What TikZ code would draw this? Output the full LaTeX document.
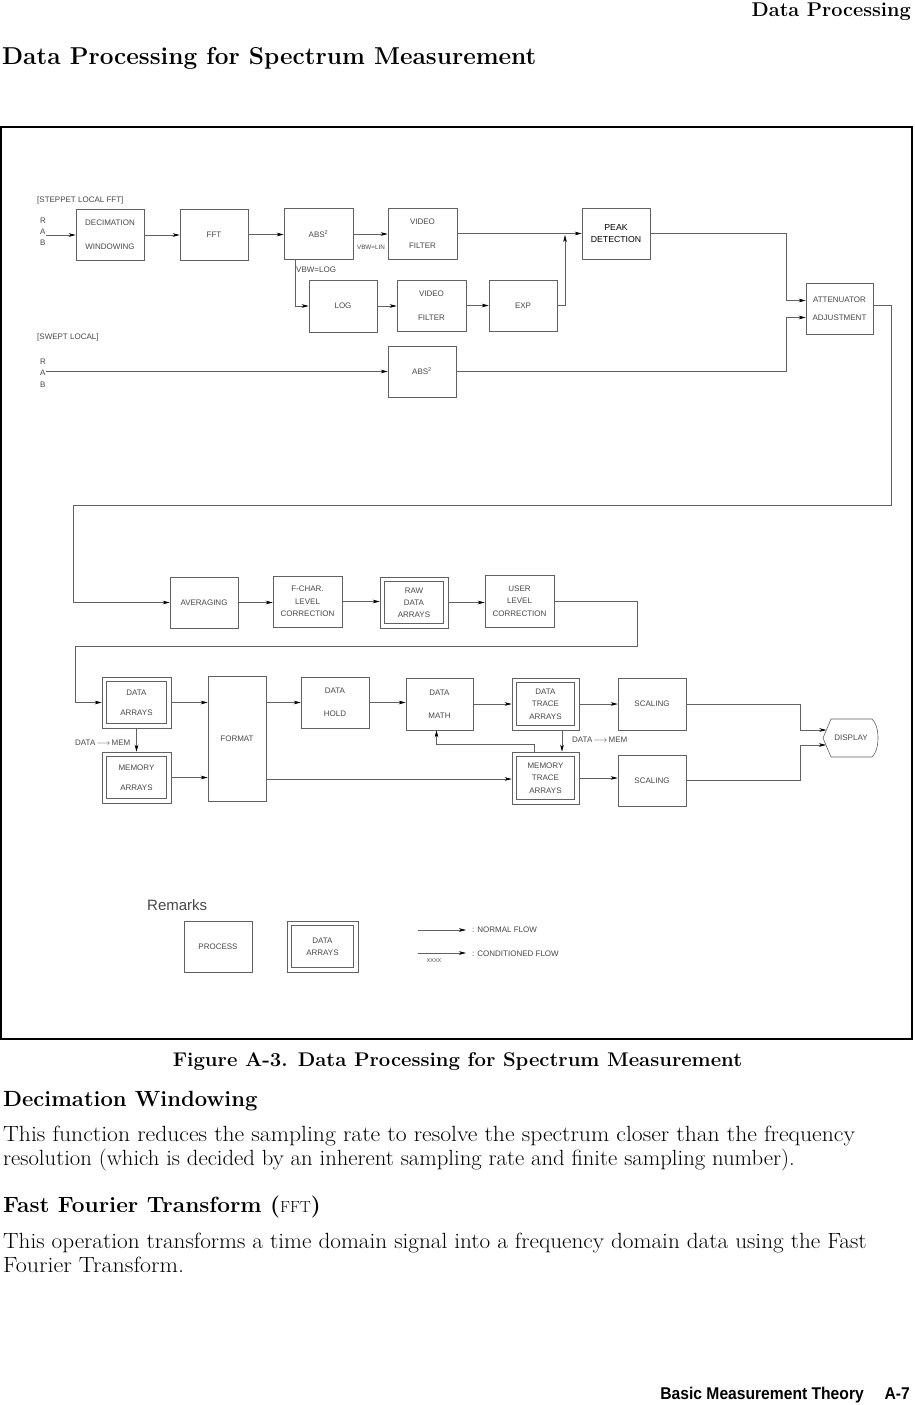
\documentclass[tikz,border=0pt]{standalone}
\usepackage{fontspec}
\newfontfamily\diagfont{Liberation Sans}
\usetikzlibrary{arrows.meta,calc}

\colorlet{linegray}{black!62}
\colorlet{textgray}{black!72}

\tikzset{
  block/.style={
    draw=linegray,
    line width=0.6pt,
    minimum width=68pt,
    minimum height=51pt,
    inner sep=0pt,
    align=center,
    text=textgray,
    font=\diagfont\fontsize{8}{9.5}\selectfont
  },
  arrblock/.style={
    block,
    path picture={
      \draw[linegray, line width=0.6pt]
        ([shift={(4.3pt,4.3pt)}]path picture bounding box.south west)
        rectangle ([shift={(-4.3pt,-4.3pt)}]path picture bounding box.north east);
    }
  },
  wire/.style={draw=linegray, line width=0.6pt},
  flow/.style={wire, -{Stealth[length=7pt,width=3.6pt,inset=2pt,black]}},
  tag/.style={inner sep=0pt, text=textgray, font=\diagfont\fontsize{8}{9.5}\selectfont},
  pagetext/.style={inner sep=0pt, anchor=base west},
  bodytext/.style={pagetext, font=\fontsize{22}{24}\selectfont}
}

\begin{document}
\begin{tikzpicture}[x=1pt, y=-1pt]
  \useasboundingbox (0,0) rectangle (915,1405);

  % page text
  \node[pagetext, anchor=base east, font=\bfseries\fontsize{19.9}{24}\selectfont] (hdr) at (911,17) {Data Processing};
  \node[pagetext, font=\bfseries\fontsize{24.4}{28}\selectfont] (title) at (2,65) {Data Processing for Spectrum Measurement};

  % frame
  \draw[line width=2pt] (1,127) rectangle (912,1039);

  % stepped local fft path
  \node[tag, anchor=west] (lblstep) at (37,200) {[STEPPET LOCAL FFT]};
  \node[tag, align=left, font=\diagfont\fontsize{8}{11}\selectfont] (rab1) at (43,232) {R\\A\\B};
  \node[block] (dec) at (110,235) {DECIMATION\\[14.5pt]WINDOWING};
  \node[block] (fft) at (214,234.5) {FFT};
  \node[block, minimum width=69pt] (abs) at (318.5,234) {ABS\textsuperscript{\fontsize{5.5}{6}\selectfont 2}};
  \node[block, minimum width=69pt] (vid1) at (422.5,233.5) {VIDEO\\[14.5pt]FILTER};
  \node[block, text=black, font=\diagfont\fontsize{8.7}{11.5}\selectfont] (peak) at (616,233.5) {PEAK\\DETECTION};
  \node[block, minimum height=52pt] (log) at (343,306) {LOG};
  \node[block, minimum width=69pt] (vid2) at (431.5,305.5) {VIDEO\\[14.5pt]FILTER};
  \node[block] (exp) at (523,305.5) {EXP};
  \node[block, minimum width=67pt] (att) at (839.5,308.5) {ATTENUATOR\\[8.5pt]ADJUSTMENT};
  \node[tag, anchor=west] (vbwlog) at (296,270) {VBW=LOG};
  \node[tag, font=\diagfont\fontsize{6.3}{8}\selectfont] (vbwlin) at (371,247) {VBW=LIN};

  % swept local path
  \node[tag, anchor=west] (lblswept) at (37,337) {[SWEPT LOCAL]};
  \node[tag, align=left, font=\diagfont\fontsize{8}{11.5}\selectfont] (rab2) at (43,373) {R\\A\\B};
  \node[block] (abs2) at (422,371.5) {ABS\textsuperscript{\fontsize{5.5}{6}\selectfont 2}};

  \coordinate (merge) at (565,235);
  \coordinate (att in1) at ([yshift=8pt]att.west);
  \coordinate (att in2) at ([yshift=-9pt]att.west);
  \coordinate (turn a) at (891,505);
  \coordinate (turn b) at (73,505);

  \draw[flow] (rab1.east |- dec.west) -- (dec.west);
  \draw[flow] (dec.east) -- (dec.east -| fft.west);
  \draw[flow] (fft.east) -- (fft.east -| abs.west);
  \draw[flow] (abs.east) -- (abs.east -| vid1.west);
  \draw[flow] (vid1.east) -- (vid1.east -| peak.west);
  \draw[flow] ([xshift=12pt]abs.south west) |- (log.west);
  \draw[flow] (log.east) -- (log.east -| vid2.west);
  \draw[flow] (vid2.east) -- (vid2.east -| exp.west);
  \draw[flow] (exp.east) -| (merge);
  \draw[flow] (peak.east) -| ([xshift=-19pt]att in1) -- (att in1);
  \draw[flow] (rab2.east |- abs2.west) -- (abs2.west);
  \draw[flow] (abs2.east) -| ([xshift=-19pt]att in2) -- (att in2);

  % correction row
  \node[block] (avg) at (204,602.5) {AVERAGING};
  \node[block, minimum width=69pt] (fchar) at (307.5,601.5) {F-CHAR.\\[3pt]LEVEL\\[3pt]CORRECTION};
  \node[arrblock] (raw) at (414,602.5) {RAW\\[2.5pt]DATA\\[2.5pt]ARRAYS};
  \node[block, minimum width=69pt, minimum height=52pt] (user) at (519.5,601) {USER\\[3pt]LEVEL\\[3pt]CORRECTION};

  \coordinate (turn c) at (637,646);
  \coordinate (turn d) at (75,646);

  \draw[flow] ([yshift=3pt]att.east) -| (turn a) -- (turn b) |- (avg.west);
  \draw[flow] (avg.east) -- (avg.east -| fchar.west);
  \draw[flow] (fchar.east) -- (fchar.east -| raw.west);
  \draw[flow] (raw.east) -- (raw.east -| user.west);

  % trace row
  \node[arrblock, minimum width=69pt] (darr) at (136.5,702.5) {DATA\\[10.5pt]ARRAYS};
  \node[arrblock, minimum width=69pt] (marr) at (136.5,777.5) {MEMORY\\[10.5pt]ARRAYS};
  \node[block, minimum width=58pt, minimum height=125pt] (fmt) at (237,738.5) {FORMAT};
  \node[block] (hold) at (335,702.5) {DATA\\[13.5pt]HOLD};
  \node[block, minimum width=67pt, minimum height=52pt] (math) at (439.5,704) {DATA\\[13.5pt]MATH};
  \node[arrblock, minimum width=67pt, minimum height=52pt] (dtrace) at (545.5,704) {DATA\\[3pt]TRACE\\[3pt]ARRAYS};
  \node[block, minimum height=52pt] (scal1) at (652,704) {SCALING};
  \node[arrblock, minimum width=67pt, minimum height=52pt] (mtrace) at (545.5,778) {MEMORY\\[3pt]TRACE\\[3pt]ARRAYS};
  \node[block] (scal2) at (652,780.5) {SCALING};
  \node[tag] (disp) at (851,738) {DISPLAY};
  \draw[wire] (831,719) -- (872,719) .. controls (880,726) and (880,750) .. (872,757) -- (831,757) -- (823,738) -- cycle;
  \node[tag, anchor=west] (memlbl1) at (75,743) {DATA\,$\longrightarrow$\,MEM};
  \node[tag, anchor=west] (memlbl2) at (572,740) {DATA\,$\longrightarrow$\,MEM};

  \coordinate (disp in1) at (826.4,730);
  \coordinate (disp in2) at (826,745);

  \draw[flow] (user.east) -| (turn c) -- (turn d) |- (darr.west);
  \draw[flow] (darr.east) -- (darr.east -| fmt.west);
  \draw[flow] (marr.east) -- (marr.east -| fmt.west);
  \draw[flow] (darr.south) -- (marr.north);
  \draw[flow] (hold.west -| fmt.east) -- (hold.west);
  \draw[flow] ([yshift=-1pt]mtrace.west -| fmt.east) -- ([yshift=-1pt]mtrace.west);
  \draw[flow] (hold.east) -- (hold.east -| math.west);
  \draw[flow] (math.east) -- (math.east -| dtrace.west);
  \draw[flow] (dtrace.east) -- (dtrace.east -| scal1.west);
  \draw[flow] (mtrace.east) -- (mtrace.east -| scal2.west);
  \draw[flow] ([xshift=16.5pt]dtrace.south) -- ([xshift=16.5pt]mtrace.north);
  \draw[flow] ([xshift=-11pt]mtrace.north) -- ++(0,-7) -| ([xshift=-3pt]math.south);
  \draw[flow] (scal1.east) -| ([xshift=-26pt]disp in1) -- (disp in1);
  \draw[flow] (scal2.east) -| ([xshift=-26pt]disp in2) -- (disp in2);

  % remarks
  \node[pagetext, text=textgray, font=\diagfont\fontsize{15}{18}\selectfont] (remarks) at (147,910) {Remarks};
  \node[block] (legproc) at (218,946.5) {PROCESS};
  \node[arrblock, minimum width=71pt] (legarr) at (322.5,946.5) {DATA\\[2.5pt]ARRAYS};
  \coordinate (nf a) at (418,930);
  \coordinate (nf b) at (466,930);
  \coordinate (cf a) at (418,953);
  \coordinate (cf b) at (466,953);
  \draw[flow] (nf a) -- (nf b);
  \draw[flow] (cf a) -- (cf b);
  \node[tag, anchor=west] (nftxt) at (472,930) {: NORMAL FLOW};
  \node[tag, anchor=west] (cftxt) at (472,954) {: CONDITIONED FLOW};
  \node[tag, font=\diagfont\fontsize{5.5}{7}\selectfont] (xxxx) at (434,961) {XXXX};

  % text below the figure
  \node[pagetext, anchor=base, font=\bfseries\fontsize{19.8}{24}\selectfont] (caption) at (457.5,1066) {\scalebox{1.025}[1]{Figure A-3. Data Processing for Spectrum Measurement}};
  \node[pagetext, font=\bfseries\fontsize{22}{26}\selectfont] (sec1) at (3,1106) {Decimation Windowing};
  \node[bodytext] (par1) at (3,1141) {\scalebox{1.075}[1]{This function reduces the sampling rate to resolve the spectrum closer than the frequency}};
  \node[bodytext] (par1b) at (3,1165) {\scalebox{1.031}[1]{resolution (which is decided by an inherent sampling rate and finite sampling number).}};
  \node[pagetext, font=\bfseries\fontsize{22}{26}\selectfont] (sec2) at (3,1212) {\scalebox{1.03}[1]{Fast Fourier Transform ({\mdseries\fontsize{16}{18}\selectfont FFT})}};
  \node[bodytext] (par2) at (3,1248) {\scalebox{1.055}[1]{This operation transforms a time domain signal into a frequency domain data using the Fast}};
  \node[bodytext] (par2b) at (3,1272) {\scalebox{1.09}[1]{Fourier Transform.}};
  \node[pagetext, anchor=base east, font=\diagfont\bfseries\fontsize{17}{20}\selectfont] (foot) at (864,1399) {\scalebox{0.92}[1]{Basic Measurement Theory}};
  \node[pagetext, anchor=base east, font=\diagfont\bfseries\fontsize{17}{20}\selectfont] (footpg) at (910,1399) {\scalebox{0.92}[1]{A-7}};
\end{tikzpicture}
\end{document}
